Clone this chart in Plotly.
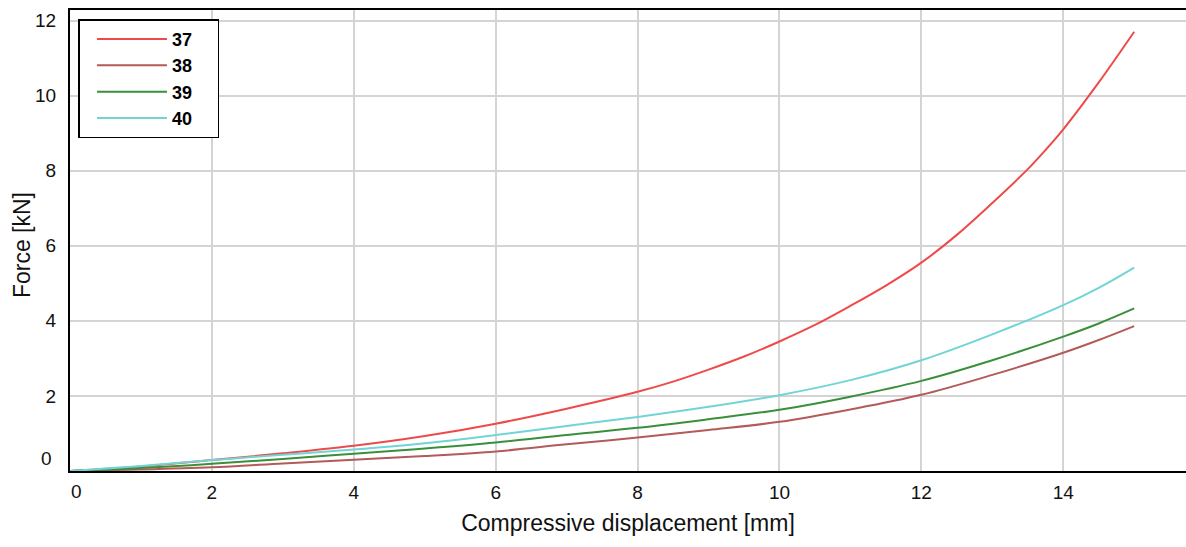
import plotly.graph_objects as go

# Compressive displacement [mm] and force [kN] per specimen
x_37 = [0, 1, 2, 3, 4, 5, 6, 7, 8, 8.5, 9, 9.5, 10, 10.5, 11, 11.5, 12, 12.5, 13, 13.5, 13.75, 14, 14.5, 15]
f_37 = [0, 0.12, 0.29, 0.47, 0.67, 0.93, 1.26, 1.66, 2.11, 2.38, 2.70, 3.05, 3.45, 3.89, 4.40, 4.94, 5.55, 6.29, 7.14, 8.04, 8.55, 9.10, 10.35, 11.70]

x_common = [0, 1, 2, 3, 4, 5, 6, 7, 8, 9, 10, 11, 12, 13, 14, 14.5, 15]
f_38 = [0, 0.04, 0.10, 0.20, 0.30, 0.40, 0.52, 0.71, 0.89, 1.09, 1.31, 1.64, 2.03, 2.56, 3.15, 3.49, 3.86]
f_39 = [0, 0.08, 0.19, 0.32, 0.46, 0.60, 0.76, 0.96, 1.15, 1.38, 1.63, 1.98, 2.40, 2.95, 3.58, 3.93, 4.33]
f_40 = [0, 0.13, 0.29, 0.43, 0.57, 0.74, 0.96, 1.20, 1.44, 1.71, 2.02, 2.42, 2.95, 3.64, 4.42, 4.88, 5.42]

x_ticks = [2, 4, 6, 8, 10, 12, 14]
y_ticks = [2, 4, 6, 8, 10, 12]

series = [
    ("37", x_37, f_37, "#ef4a4a"),
    ("38", x_common, f_38, "#b35a5a"),
    ("39", x_common, f_39, "#3a8f3a"),
    ("40", x_common, f_40, "#72d4d4"),
]

FONT = "Arial, Liberation Sans, sans-serif"
NBSP = "\u00a0"

fig = go.Figure()
for name, xs, ys, color in series:
    fig.add_trace(go.Scatter(
        x=xs, y=ys, name=name + NBSP * 4, mode="lines",
        line=dict(color=color, width=2, shape="spline", smoothing=1.0),
    ))

fig.update_layout(
    width=1186, height=547,
    margin=dict(l=70, r=0, t=10, b=76),
    plot_bgcolor="white", paper_bgcolor="white",
    font=dict(family=FONT, size=19, color="#111"),
    showlegend=True,
    legend=dict(
        x=0.0076, y=0.98, xanchor="left", yanchor="top",
        bgcolor="white", bordercolor="black", borderwidth=1.5,
        font=dict(family=FONT, size=18, color="black", weight="bold"),
        itemwidth=70, indentation=12, tracegroupgap=0,
    ),
    xaxis=dict(
        range=[0, 15.73],
        tickvals=x_ticks, ticktext=[str(v) for v in x_ticks],
        showgrid=True, gridcolor="#d4d4d4", gridwidth=1.5,
        zeroline=False,
        showline=True, linecolor="black", linewidth=2, mirror=True,
        ticks="", ticklabelstandoff=3,
        tickfont=dict(size=19),
        title=dict(text="Compressive displacement [mm]", font=dict(size=23), standoff=13),
    ),
    yaxis=dict(
        range=[0, 12.28],
        tickvals=y_ticks, ticktext=[str(v) for v in y_ticks],
        showgrid=True, gridcolor="#d4d4d4", gridwidth=1.5,
        zeroline=False,
        showline=True, linecolor="black", linewidth=2, mirror=False,
        ticks="", ticklabelstandoff=8,
        tickfont=dict(size=19),
    ),
)

# Vertical axis title
fig.add_annotation(x=-0.043, y=0.49, xref="paper", yref="paper", text="Force [kN]",
                   textangle=-90, showarrow=False, xanchor="center", yanchor="middle",
                   font=dict(size=23))

# Origin labels sit just inside the corner
fig.add_annotation(x=0.0055, y=-0.0434, xref="paper", yref="paper", text="0", showarrow=False,
                   xanchor="center", yanchor="middle", font=dict(size=19))
fig.add_annotation(x=-0.0215, y=0.0275, xref="paper", yref="paper", text="0", showarrow=False,
                   xanchor="center", yanchor="middle", font=dict(size=19))

fig.write_html("out.html")
